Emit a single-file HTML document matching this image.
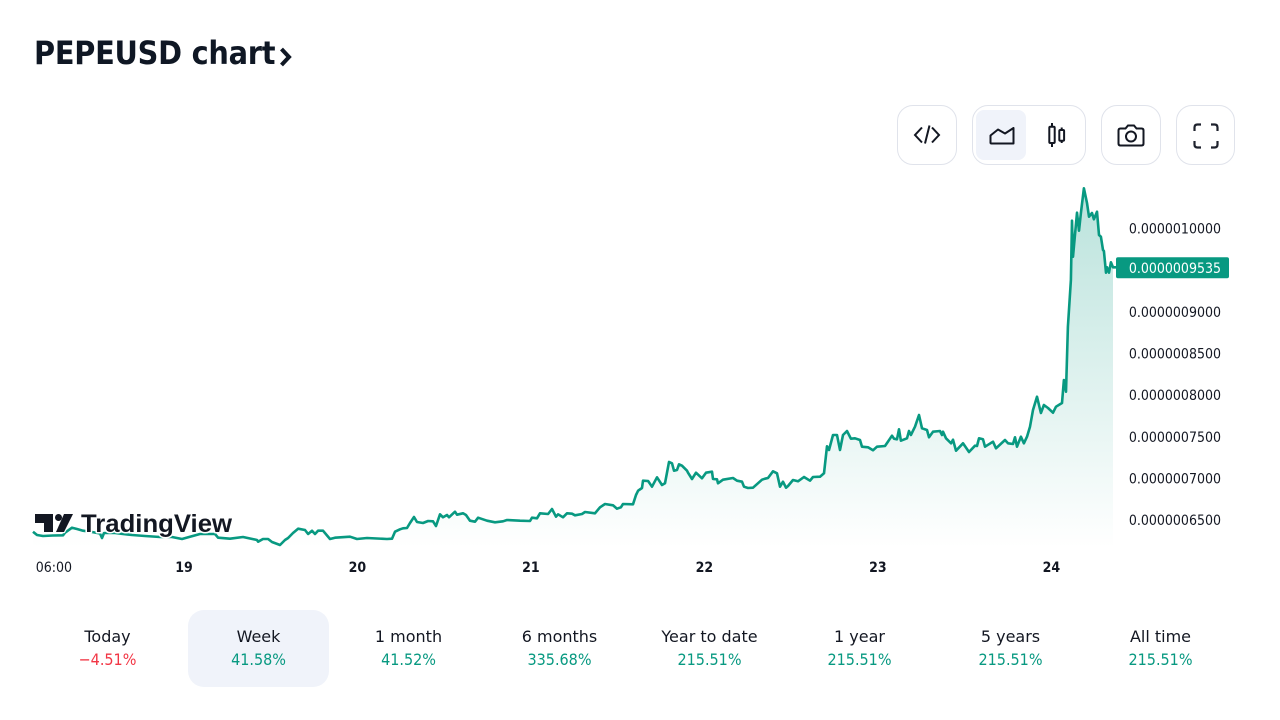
<!DOCTYPE html>
<html lang="en">
<head>
<meta charset="utf-8">
<title>PEPEUSD chart</title>
<style>
html,body{margin:0;padding:0;background:#fff;}
body{width:1280px;height:720px;overflow:hidden;position:relative;font-family:"DejaVu Sans Condensed","DejaVu Sans","Liberation Sans",sans-serif;font-stretch:condensed;color:#131722;}
#title{position:absolute;left:34px;top:32px;margin:0;font-size:32px;line-height:42px;font-weight:700;color:#0f1724;white-space:nowrap;letter-spacing:-0.25px;}
#title svg{position:absolute;left:245px;top:15px;}
.btn{position:absolute;box-sizing:border-box;border:1px solid #e0e3eb;border-radius:16px;background:#fff;top:105px;height:60px;}
.tile{position:absolute;top:4px;left:3px;width:50px;height:50px;border-radius:8px;background:#f0f3fa;}
.btn svg{position:absolute;}
#chart{position:absolute;left:0;top:0;}
.tab{position:absolute;top:610px;height:77px;width:141px;border-radius:16px;text-align:center;font-size:16px;}
.tab.active{background:#f0f3fa;}
.tab .lbl{position:absolute;left:0;right:0;top:15px;line-height:24px;color:#131722;font-family:"DejaVu Sans","Liberation Sans",sans-serif;font-stretch:normal;}
.tab .val{position:absolute;left:0;right:0;top:38px;line-height:24px;color:#089981;}
.tab .val.neg{color:#f23645;}
</style>
</head>
<body>
<h2 id="title">PEPEUSD chart<svg width="14" height="20" viewBox="0 0 14 20"><path d="M2.500 2L10 10L2.500 18" fill="none" stroke="#0f1724" stroke-width="4"/></svg></h2>

<div class="btn" style="left:897px;width:60px">
<svg style="left:15px;top:18px" width="28" height="22" viewBox="0 0 28 22"><path d="M9 3.500L2 11L9 18.500M19 3.500L26 11L19 18.500M16.500 1.500L12 19.500" fill="none" stroke="#131722" stroke-width="2"/></svg>
</div>
<div class="btn" style="left:972px;width:114px">
<div class="tile"></div>
<svg style="left:16px;top:21px" width="28" height="20" viewBox="0 0 28 20"><path d="M1.500 16V8.500L9 2.500L16 6.500L24.500 1V16.500H2.500Q1.500 16.500 1.500 15.500Z" fill="none" stroke="#131722" stroke-width="2" stroke-linejoin="round"/></svg>
<svg style="left:74px;top:17px" width="20" height="26" viewBox="0 0 20 26"><path d="M5 0V24M14.700 4.500V20" stroke="#131722" stroke-width="2" fill="none"/><rect x="2.300" y="3.700" width="5.400" height="16.300" rx="1" fill="#fff" stroke="#131722" stroke-width="2"/><rect x="12.300" y="7" width="4.800" height="10.700" rx="1" fill="#fff" stroke="#131722" stroke-width="2"/></svg>
</div>
<div class="btn" style="left:1101px;width:60px">
<svg style="left:15px;top:17px" width="28" height="25" viewBox="0 0 28 25"><path d="M3.500 5.500H8.500L11 2.500H17L19.500 5.500H24.500Q26.500 5.500 26.500 7.500V20.500Q26.500 22.500 24.500 22.500H3.500Q1.500 22.500 1.500 20.500V7.500Q1.500 5.500 3.500 5.500Z" fill="none" stroke="#131722" stroke-width="2"/><circle cx="14" cy="13.500" r="5" fill="none" stroke="#131722" stroke-width="2"/></svg>
</div>
<div class="btn" style="left:1176px;width:59px">
<svg style="left:16px;top:17px" width="26" height="26" viewBox="0 0 26 26"><path d="M1.500 8V4.500Q1.500 1.500 4.500 1.500H8M18 1.500H21.500Q24.500 1.500 24.500 4.500V8M24.500 18V21.500Q24.500 24.500 21.500 24.500H18M8 24.500H4.500Q1.500 24.500 1.500 21.500V18" fill="none" stroke="#1e222d" stroke-width="2.200"/></svg>
</div>

<svg id="chart" width="1280" height="600" viewBox="0 0 1280 600" xmlns="http://www.w3.org/2000/svg" style="font-family:'DejaVu Sans Condensed','DejaVu Sans',sans-serif;font-stretch:condensed;">
<defs>
<linearGradient id="areaFill" gradientUnits="userSpaceOnUse" x1="0" y1="188" x2="0" y2="548">
<stop offset="0" stop-color="#089981" stop-opacity="0.28"/>
<stop offset="1" stop-color="#089981" stop-opacity="0"/>
</linearGradient>
</defs>
<g id="marks"></g>
<g id="axes"></g>
<g id="logo">
<g fill="#fff" stroke="#fff" stroke-width="2.500" stroke-linejoin="round">
<path d="M35 514H53V532H44V523H35Z"/>
<circle cx="58.500" cy="517.500" r="3.500"/>
<path d="M64 514H73L64 532H56Z"/>
</g>
<g fill="#131722">
<path d="M35 514H53V532H44V523H35Z"/>
<circle cx="58.500" cy="517.500" r="3.500"/>
<path d="M64 514H73L64 532H56Z"/>
</g>
<text x="81" y="532" textLength="151" lengthAdjust="spacingAndGlyphs" fill="#131722" stroke="#fff" stroke-width="3" paint-order="stroke" stroke-linejoin="round" style="font-family:'Liberation Sans',sans-serif;font-size:25px;font-weight:700;font-stretch:normal;">TradingView</text>
</g>
</svg>

<div class="tab" style="left:37px"><div class="lbl">Today</div><div class="val neg">−4.51%</div></div>
<div class="tab active" style="left:188px"><div class="lbl">Week</div><div class="val">41.58%</div></div>
<div class="tab" style="left:338px"><div class="lbl">1 month</div><div class="val">41.52%</div></div>
<div class="tab" style="left:489px"><div class="lbl">6 months</div><div class="val">335.68%</div></div>
<div class="tab" style="left:639px"><div class="lbl">Year to date</div><div class="val">215.51%</div></div>
<div class="tab" style="left:789px"><div class="lbl">1 year</div><div class="val">215.51%</div></div>
<div class="tab" style="left:940px"><div class="lbl">5 years</div><div class="val">215.51%</div></div>
<div class="tab" style="left:1090px"><div class="lbl">All time</div><div class="val">215.51%</div></div>

<script>
// Minutes since the start of the window
var minutes = [0,33,83,166,249,266,324,365,415,490,556,573,589,681,747,822,930,1054,1154,1237,1303,1386,1469,1511,1536,1635,1743,1859,1868,1909,1951,1984,2050,2092,2117,2158,2200,2258,2283,2316,2341,2366,2407,2465,2507,2631,2689,2772,2938,2980,3005,3046,3071,3104,3129,3162,3187,3237,3279,3320,3345,3378,3403,3436,3453,3503,3519,3569,3594,3627,3669,3694,3768,3835,3901,3934,4042,4125,4142,4183,4208,4275,4308,4341,4358,4399,4432,4474,4499,4557,4582,4665,4706,4748,4814,4847,4880,4897,4980,5005,5022,5055,5063,5105,5138,5179,5221,5246,5279,5304,5320,5345,5362,5387,5428,5437,5470,5503,5553,5586,5636,5644,5677,5686,5727,5810,5843,5885,5901,5935,5976,6051,6076,6101,6142,6175,6200,6225,6250,6267,6308,6350,6399,6449,6474,6532,6565,6590,6607,6640,6673,6698,6723,6756,6789,6823,6864,6881,6931,6972,7005,7072,7130,7146,7171,7188,7204,7254,7271,7287,7321,7354,7379,7420,7437,7470,7528,7545,7553,7578,7620,7636,7661,7719,7769,7819,7835,7852,7885,7902,7968,7993,8068,8093,8134,8151,8167,8200,8225,8250,8275,8300,8333,8366,8391,8425,8466,8491,8541,8557,8574,8590,8615,8624,8632,8640,8665,8682,8698,8723,8748,8765,8790,8806,8831,8848,8864,8881,8889,8906,8914,8931,8947,8964];
// Price in units of 1e-10 USD
var prices = [6362,6322,6310,6316,6318,6350,6410,6394,6374,6358,6340,6286,6346,6346,6334,6322,6310,6298,6298,6274,6302,6334,6334,6334,6290,6278,6298,6262,6242,6274,6274,6238,6202,6262,6286,6346,6398,6382,6334,6374,6334,6374,6374,6274,6290,6302,6274,6286,6274,6278,6362,6390,6402,6406,6466,6538,6478,6466,6490,6486,6430,6570,6534,6562,6534,6602,6566,6582,6562,6494,6482,6530,6494,6474,6486,6502,6494,6490,6530,6522,6582,6574,6634,6542,6570,6534,6582,6578,6558,6574,6598,6582,6654,6694,6678,6638,6654,6694,6690,6802,6854,6886,6974,6970,6902,7014,6922,6942,7198,7182,7094,7102,7170,7154,7094,7070,6994,7070,7002,7070,7082,6994,6990,6942,6986,7006,6974,6962,6902,6886,6890,6986,6998,7006,7086,7062,6902,6962,6890,6910,6982,6966,7018,6974,7018,7022,7062,7386,7342,7522,7522,7342,7522,7570,7478,7482,7462,7382,7374,7338,7382,7390,7514,7478,7470,7590,7454,7482,7570,7522,7622,7762,7602,7582,7494,7562,7570,7522,7562,7482,7422,7466,7334,7422,7318,7394,7390,7482,7470,7382,7442,7362,7462,7422,7414,7494,7382,7502,7422,7502,7622,7822,7982,7786,7882,7846,7790,7862,7906,8182,8042,8822,9382,10094,9662,9782,10190,9974,10186,10482,10306,10142,10186,10110,10202,9922,9902,9742,9730,9470,9534,9470,9594,9535];
var yTickValues = [10000,9000,8500,8000,7500,7000,6500];
var yTickLabels = ["0.0000010000","0.0000009000","0.0000008500","0.0000008000","0.0000007500","0.0000007000","0.0000006500"];
var xTickMinutes = [173,1253,2693,4133,5573,7013,8453];
var xTickLabels = ["06:00","19","20","21","22","23","24"];
var lastPriceLabel = "0.0000009535";

var NS = 'http://www.w3.org/2000/svg';
function xAt(t){ return 33 + t * 0.12048; }
function yAt(p){ return 228.5 + (10000 - p) / 12; }
function make(tag, attrs, parent){
  var el = document.createElementNS(NS, tag);
  for (var k in attrs) el.setAttribute(k, attrs[k]);
  parent.appendChild(el);
  return el;
}
var marks = document.getElementById('marks');
var axes = document.getElementById('axes');
var baseY = 548;
var pts = [];
for (var i = 0; i < minutes.length; i++) {
  pts.push(xAt(minutes[i]).toFixed(1) + ' ' + yAt(prices[i]).toFixed(1));
}
var lastX = xAt(minutes[minutes.length - 1]);
var firstX = xAt(minutes[0]);
var area = make('path', {d: 'M' + firstX.toFixed(1) + ' ' + baseY + 'L' + pts.join('L') + 'L' + lastX.toFixed(1) + ' ' + baseY + 'Z', fill: 'url(#areaFill)'}, marks);


var line = make('path', {d: 'M' + pts.join('L') + 'L1117 ' + yAt(prices[prices.length - 1]).toFixed(1), fill: 'none', stroke: '#089981', 'stroke-width': 2.6, 'stroke-linejoin': 'round'}, marks);



for (var j = 0; j < yTickValues.length; j++) {
  var yt = make('text', {x: 1221, y: yAt(yTickValues[j]) + 5, 'text-anchor': 'end', 'font-size': 14, fill: '#131722'}, axes);
  yt.textContent = yTickLabels[j];
  
  
}
for (var m = 0; m < xTickMinutes.length; m++) {
  var xt = make('text', {x: xAt(xTickMinutes[m]), y: 572, 'text-anchor': 'middle', 'font-size': 14, fill: '#131722', 'font-weight': m === 0 ? 400 : 600}, axes);
  xt.textContent = xTickLabels[m];
  
  
}
var lastY = yAt(prices[prices.length - 1]);
var badge = make('rect', {x: 1116, y: lastY - 10, width: 113, height: 21, rx: 2, fill: '#089981'}, axes);


var badgeText = make('text', {x: 1221, y: lastY + 5.500, 'text-anchor': 'end', 'font-size': 14, fill: '#fff'}, axes);
badgeText.textContent = lastPriceLabel;


</script>
</body>
</html>
